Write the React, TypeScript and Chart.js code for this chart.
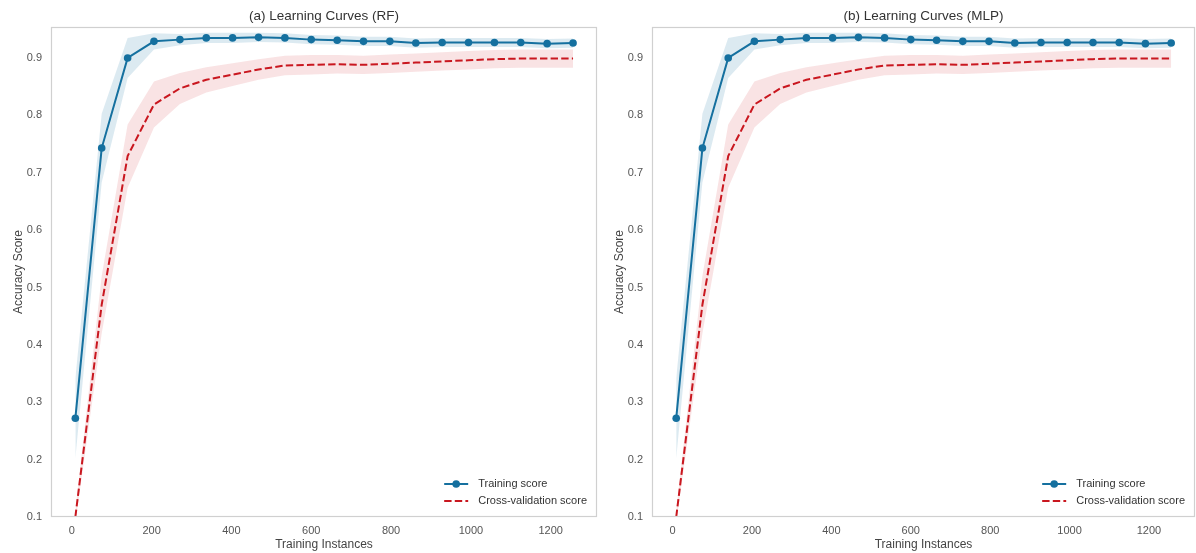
import React, { useEffect, useRef } from "react";
import { Chart, registerables } from "chart.js";

Chart.register(...registerables);

// ---- Data ----
const TRAIN_SIZES = [9, 75, 140, 206, 271, 337, 403, 468, 534, 600, 665, 731, 797, 862, 928, 994, 1059, 1125, 1191, 1256];
const TRAIN_MEAN = [0.272, 0.743, 0.9, 0.929, 0.932, 0.935, 0.935, 0.936, 0.935, 0.932, 0.931, 0.929, 0.929, 0.926, 0.927, 0.927, 0.927, 0.927, 0.925, 0.926];
const TRAIN_STD = [0.07, 0.06, 0.035, 0.014, 0.01, 0.009, 0.009, 0.008, 0.008, 0.008, 0.008, 0.008, 0.008, 0.008, 0.008, 0.008, 0.008, 0.008, 0.008, 0.008];
const CV_MEAN = [0.1, 0.47, 0.729, 0.819, 0.847, 0.862, 0.871, 0.88, 0.887, 0.888, 0.889, 0.888, 0.89, 0.892, 0.894, 0.896, 0.898, 0.899, 0.899, 0.899];
const CV_STD = [0.01, 0.05, 0.055, 0.04, 0.027, 0.022, 0.02, 0.018, 0.017, 0.017, 0.016, 0.016, 0.016, 0.016, 0.016, 0.016, 0.016, 0.016, 0.016, 0.016];

const X_TICKS = [0, 200, 400, 600, 800, 1000, 1200];
const Y_TICKS = [0.1, 0.2, 0.3, 0.4, 0.5, 0.6, 0.7, 0.8, 0.9];
const X_RANGE = [-52, 1316];
const Y_RANGE = [0.1, 0.954];

const PANEL_TITLES = ["(a) Learning Curves (RF)", "(b) Learning Curves (MLP)"];
const LEGEND_LABELS = ["Training score", "Cross-validation score"];
const X_TITLE = "Training Instances";
const Y_TITLE = "Accuracy Score";

const FONT = "'Liberation Sans', Arial, Helvetica, sans-serif";
const BLUE = "#15709f";
const RED = "#c9171f";
const BLUE_BAND = "rgba(22,114,163,0.15)";
const RED_BAND = "rgba(208,22,30,0.12)";
const BORDER = "#d0d0d0";

function pts(ys: number[]) {
  return TRAIN_SIZES.map((x, i) => ({ x, y: ys[i] }));
}

function Panel({ title, width, left }: { title: string; width: number; left: number }) {
  const ref = useRef<HTMLCanvasElement | null>(null);
  useEffect(() => {
    if (!ref.current) return;
    const trainUp = TRAIN_MEAN.map((m, i) => m + TRAIN_STD[i]);
    const trainLo = TRAIN_MEAN.map((m, i) => m - TRAIN_STD[i]);
    const cvUp = CV_MEAN.map((m, i) => m + CV_STD[i]);
    const cvLo = CV_MEAN.map((m, i) => m - CV_STD[i]);

    const decor = {
      id: "decor",
      afterDraw(chart: any) {
        const { ctx, chartArea } = chart;
        const { left: l, right: r, top: t, bottom: b } = chartArea;
        ctx.save();
        // frame
        ctx.strokeStyle = BORDER;
        ctx.lineWidth = 1.2;
        ctx.strokeRect(l + 0.5, t + 0.5, r - l - 1, b - t - 1);
        // title
        ctx.fillStyle = "#333";
        ctx.font = `13.5px ${FONT}`;
        ctx.textAlign = "center";
        ctx.textBaseline = "middle";
        ctx.fillText(title, (l + r) / 2, 16);
        // legend
        ctx.font = `11px ${FONT}`;
        const maxW = Math.max(...LEGEND_LABELS.map((s) => ctx.measureText(s).width));
        const tx = r - 10 - maxW;
        const x0 = tx - 34;
        const x1 = tx - 10;
        const y1 = b - 33;
        const y2 = b - 16;
        ctx.lineWidth = 2;
        ctx.strokeStyle = BLUE;
        ctx.beginPath();
        ctx.moveTo(x0, y1);
        ctx.lineTo(x1, y1);
        ctx.stroke();
        ctx.fillStyle = BLUE;
        ctx.beginPath();
        ctx.arc((x0 + x1) / 2, y1, 3.8, 0, Math.PI * 2);
        ctx.fill();
        ctx.strokeStyle = RED;
        ctx.setLineDash([7.4, 3.2]);
        ctx.beginPath();
        ctx.moveTo(x0, y2);
        ctx.lineTo(x1, y2);
        ctx.stroke();
        ctx.setLineDash([]);
        ctx.fillStyle = "#333";
        ctx.textAlign = "left";
        ctx.fillText(LEGEND_LABELS[0], tx, y1);
        ctx.fillText(LEGEND_LABELS[1], tx, y2);
        ctx.restore();
      },
    };

    const chart = new Chart(ref.current, {
      type: "line",
      data: {
        datasets: [
          { data: pts(trainUp), borderWidth: 0, pointRadius: 0, backgroundColor: BLUE_BAND, borderColor: "transparent", fill: "+1", order: 3 },
          { data: pts(trainLo), borderWidth: 0, pointRadius: 0, borderColor: "transparent", fill: false, order: 3 },
          { data: pts(cvUp), borderWidth: 0, pointRadius: 0, backgroundColor: RED_BAND, borderColor: "transparent", fill: "+1", order: 3 },
          { data: pts(cvLo), borderWidth: 0, pointRadius: 0, borderColor: "transparent", fill: false, order: 3 },
          { label: LEGEND_LABELS[1], data: pts(CV_MEAN), borderColor: RED, borderWidth: 2, borderDash: [7.4, 3.2], pointRadius: 0, fill: false, order: 1 },
          { label: LEGEND_LABELS[0], data: pts(TRAIN_MEAN), borderColor: BLUE, backgroundColor: BLUE, borderWidth: 2, pointRadius: 3.8, pointBackgroundColor: BLUE, pointBorderWidth: 0, fill: false, order: 0 },
        ],
      },
      options: {
        responsive: false,
        animation: false,
        events: [],
        layout: { autoPadding: false, padding: { top: 27, right: 1, left: 0, bottom: 0 } },
        plugins: { legend: { display: false }, tooltip: { enabled: false }, title: { display: false } },
        scales: {
          x: {
            type: "linear",
            min: X_RANGE[0],
            max: X_RANGE[1],
            grid: { display: false, drawTicks: false },
            border: { display: false },
            afterFit: (s: any) => { s.height = 36; s.paddingLeft = 0; s.paddingRight = 0; },
            afterBuildTicks: (s: any) => { s.ticks = X_TICKS.map((v) => ({ value: v })); },
            ticks: { padding: 7, color: "#555", font: { family: FONT, size: 11 }, callback: (v: any) => String(v) },
            title: { display: true, text: X_TITLE, color: "#444", font: { family: FONT, size: 12 }, padding: { top: 0, bottom: 1 } },
          },
          y: {
            type: "linear",
            min: Y_RANGE[0],
            max: Y_RANGE[1],
            grid: { display: false, drawTicks: false },
            border: { display: false },
            afterFit: (s: any) => { s.width = 51; s.paddingTop = 0; s.paddingBottom = 0; },
            afterBuildTicks: (s: any) => { s.ticks = Y_TICKS.map((v) => ({ value: v })); },
            ticks: { padding: 9, color: "#555", font: { family: FONT, size: 11 }, callback: (v: any) => Number(v).toFixed(1) },
            title: { display: true, text: Y_TITLE, color: "#444", font: { family: FONT, size: 12 }, padding: { top: 11, bottom: 0 } },
          },
        },
      },
      plugins: [decor],
    } as any);
    return () => chart.destroy();
  }, [title]);
  return (
    <canvas
      ref={ref}
      width={width}
      height={553}
      style={{ position: "absolute", left, top: 0, width, height: 553, display: "block" }}
    />
  );
}

export default function App() {
  return (
    <div style={{ position: "fixed", left: 0, top: 0, width: 1196, height: 553, background: "#fff", overflow: "hidden" }}>
      <Panel title={PANEL_TITLES[0]} width={598} left={0} />
      <Panel title={PANEL_TITLES[1]} width={595} left={601} />
    </div>
  );
}
